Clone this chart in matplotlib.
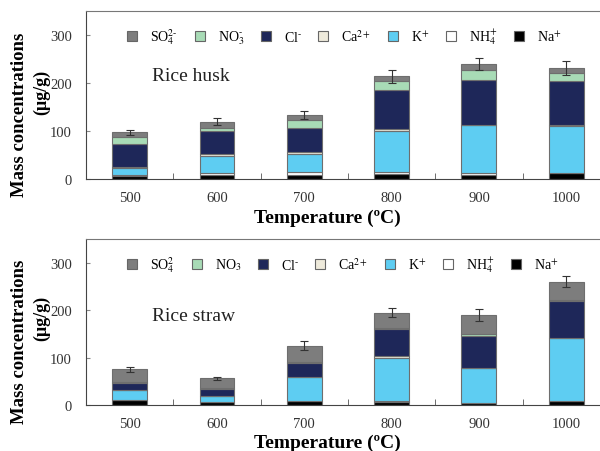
import matplotlib.pyplot as plt
import numpy as np
from matplotlib.lines import Line2D

# ---------------------------------------------------------------------------
# Data (ug/g)
# ---------------------------------------------------------------------------
temps = ["500", "600", "700", "800", "900", "1000"]

# stacking order bottom -> top: Na+, NH4+, K+, Ca2+, Cl-, NO3-, SO4 2-
husk_na = [6, 8, 9, 11, 9, 12]
husk_nh4 = [2, 4, 5, 4, 3.5, 0.5]
husk_k = [14, 35, 38, 86, 100, 98.5]
husk_ca = [2, 5, 3.5, 4, 1, 1]
husk_cl = [48, 47, 50.5, 81, 92.5, 93]
husk_no3 = [15, 7, 17.5, 19, 21, 16]
husk_so4 = [10, 13.5, 9.5, 9, 13, 10]
husk_err = [5, 8, 8, 13, 12, 15]

straw_na = [11, 5.5, 8, 7, 3.5, 8]
straw_nh4 = [0.5, 0.5, 0.5, 0.5, 0.5, 0.5]
straw_k = [19.5, 12, 51, 92.5, 73.5, 132.5]
straw_ca = [0.5, 0.5, 0.5, 4, 0.5, 0.5]
straw_cl = [14.5, 15.5, 29, 55.5, 67.5, 77.5]
straw_no3 = [3, 2, 2.5, 3.5, 3.5, 3.5]
straw_so4 = [26, 20.5, 34, 32, 41.5, 37.5]
straw_err = [4.5, 3.5, 8.5, 9.5, 13, 12]

colors = ["#000000", "#ffffff", "#5ecdf2", "#eeeadb", "#1e2759", "#a8dbb6", "#7d7d7d"]

husk_labels = ["SO$_4^{2\\text{-}}$", "NO$_3^{\\text{-}}$", "Cl$^{\\text{-}}$", "Ca$^{2+}$",
               "K$^{+}$", "NH$_4^{+}$", "Na$^{+}$"]
straw_labels = ["SO$_4^{2}$", "NO$_3$", "Cl$^{\\text{-}}$", "Ca$^{2+}$",
                "K$^{+}$", "NH$_4^{+}$", "Na$^{+}$"]

plt.rcParams.update({
    "font.family": ["Liberation Serif", "DejaVu Serif"],
    "mathtext.fontset": "stix",
    "axes.linewidth": 0.8,
})

fig = plt.figure(figsize=(6, 4.52), dpi=100)


def draw_panel(ax, layers, err, labels, name, name_y):
    x = np.arange(len(temps))
    bottom = np.zeros(len(temps))
    for vals, c in zip(layers, colors):
        ax.bar(x, vals, 0.4, bottom=bottom, color=c, edgecolor="#6e6e6e",
               linewidth=0.8, zorder=2)
        bottom = bottom + np.array(vals)
    ax.errorbar(x, bottom, yerr=err, fmt="none", ecolor="#333333",
                elinewidth=0.8, capsize=3, capthick=0.8, zorder=3)

    ax.set_xlim(-0.5, len(temps) - 0.5)
    ax.set_ylim(0, 350)
    ax.set_yticks([0, 100, 200, 300])
    ax.set_xticks(x)
    ax.set_xticklabels(temps)
    ax.set_xticks(x[:-1] + 0.5, minor=True)
    ax.tick_params(axis="x", which="major", length=0, pad=9,
                   labelsize=10.5, labelcolor="#333333")
    ax.tick_params(axis="x", which="minor", direction="in", length=4,
                   color="#555555")
    ax.tick_params(axis="y", direction="in", length=3, color="#888888",
                   pad=10, labelsize=10.5, labelcolor="#333333")
    for s in ax.spines.values():
        s.set_color("#444444")
    ax.spines["top"].set_color("#777777")

    ax.text(0.126, name_y, name, transform=ax.transAxes, fontsize=14,
            ha="left", va="center", color="#222222")

    handles = [Line2D([], [], marker="s", linestyle="none", markersize=7,
                      markerfacecolor=c, markeredgecolor="#666666",
                      markeredgewidth=0.8)
               for c in colors[::-1]]
    ax.legend(handles, labels, ncol=7, loc="center left",
              bbox_to_anchor=(0.078, 0.848), frameon=False, fontsize=10,
              handlelength=0.8, handletextpad=0.9, columnspacing=1.15,
              borderpad=0, borderaxespad=0)


ax1 = fig.add_axes([0.1433, 0.6018, 0.8733, 0.3717])
draw_panel(ax1, [husk_na, husk_nh4, husk_k, husk_ca, husk_cl, husk_no3, husk_so4],
           husk_err, husk_labels, "Rice husk", 0.613)

ax2 = fig.add_axes([0.1433, 0.1018, 0.8733, 0.367])
draw_panel(ax2, [straw_na, straw_nh4, straw_k, straw_ca, straw_cl, straw_no3, straw_so4],
           straw_err, straw_labels, "Rice straw", 0.542)

# axis titles
for yl1, yl2, xl in [(0.746, 0.796, 0.518), (0.243, 0.296, 0.020)]:
    fig.text(0.033, yl1, "Mass concentrations", rotation=90, fontsize=13.5,
             fontweight="bold", ha="center", va="center")
    fig.text(0.069, yl2, "(\u03bcg/g)", rotation=90, fontsize=13,
             fontweight="bold", ha="center", va="center")
    fig.text(0.545, xl, "Temperature (\u00baC)", fontsize=14,
             fontweight="bold", ha="center", va="center")

fig.savefig("out.png", dpi=100)
